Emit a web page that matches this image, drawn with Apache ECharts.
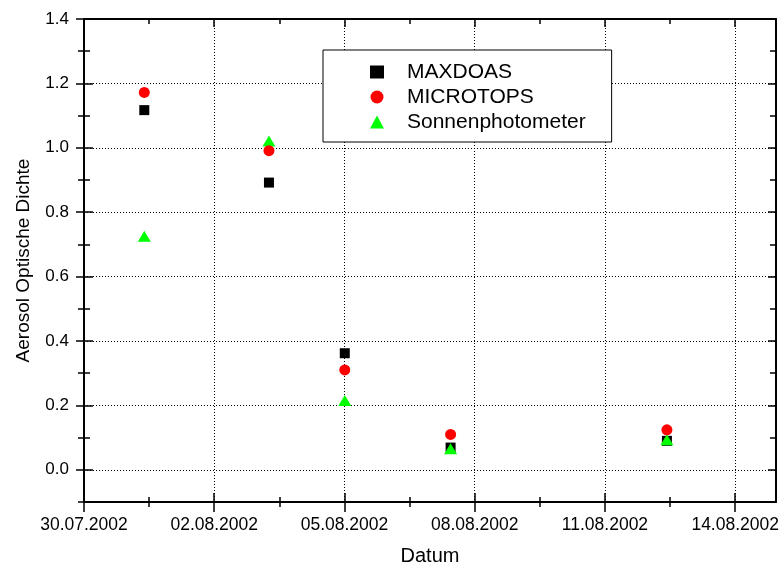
<!DOCTYPE html>
<html><head><meta charset="utf-8">
<script src="https://cdn.jsdelivr.net/npm/echarts@6/dist/echarts.min.js"></script>
<style>html,body{margin:0;padding:0;background:#fff}#c{width:779px;height:566px}</style>
</head><body><div id="c"></div>
<script>
// ---- data ----
const seriesNames = ['MAXDOAS', 'MICROTOPS', 'Sonnenphotometer'];
const sampleDates = ['2002-07-31T09:20', '2002-08-03T06:15', '2002-08-05T00:10', '2002-08-07T10:40', '2002-08-12T10:15'];
const maxdoas   = [1.117, 0.892, 0.362, 0.069, 0.090];
const microtops = [1.172, 0.991, 0.310, 0.110, 0.124];
const sonnen    = [0.725, 1.021, 0.215, 0.065, 0.093];

const xStartDate = '2002-07-30T00:00';
const xEndDays = 15.94;
const xMajorTicks = [0, 3, 6, 9, 12, 15];
const xMinorTicks = [1.5, 4.5, 7.5, 10.5, 13.5];
const xTickLabels = ['30.07.2002', '02.08.2002', '05.08.2002', '08.08.2002', '11.08.2002', '14.08.2002'];
const yMin = -0.1, yMax = 1.4;
const yMajorTicks = [0, 0.2, 0.4, 0.6, 0.8, 1.0, 1.2, 1.4];
const yMinorTicks = [-0.1, 0.1, 0.3, 0.5, 0.7, 0.9, 1.1, 1.3];
const yTickLabels = ['0.0', '0.2', '0.4', '0.6', '0.8', '1.0', '1.2', '1.4'];
const xTitle = 'Datum';
const yTitle = 'Aerosol Optische Dichte';

// ---- helpers ----
function toMs(s) {
  const m = s.match(/(\d+)-(\d+)-(\d+)T(\d+):(\d+)/);
  return Date.UTC(+m[1], +m[2] - 1, +m[3], +m[4], +m[5]);
}
function toDays(s) { return (toMs(s) - toMs(xStartDate)) / 86400000; }
function pairs(vals) { return sampleDates.map((d, i) => [toDays(d), vals[i]]); }

const FONT = '"Liberation Sans", Arial, sans-serif';
const BLACK = '#000';
const dotted = { show: true, lineStyle: { color: BLACK, width: 1, type: [1, 2] } };
const noSplit = { show: false };
const tickStyle = { color: BLACK, width: 1.5 };
const solidLine = { show: true, onZero: false, lineStyle: { color: BLACK, width: 2 } };
const hiddenLine = { show: false, onZero: false };

function xAx(o) {
  return Object.assign({
    type: 'value', min: 0, max: xEndDays, position: 'bottom',
    axisLine: hiddenLine, axisLabel: { show: false }, splitLine: noSplit,
    axisTick: { show: false }
  }, o);
}
function yAx(o) {
  return Object.assign({
    type: 'value', min: yMin, max: yMax, position: 'left',
    axisLine: hiddenLine, axisLabel: { show: false }, splitLine: noSplit,
    axisTick: { show: false }
  }, o);
}

const xAxes = [
  xAx({
    axisLine: solidLine,
    axisTick: { show: false, customValues: xMajorTicks },
    axisLabel: {
      show: true, customValues: xMajorTicks, margin: 14, color: BLACK,
      fontFamily: FONT, fontSize: 17.5,
      formatter: v => xTickLabels[xMajorTicks.findIndex(t => Math.abs(t - v) < 1e-6)] || ''
    },
    splitLine: dotted,
    name: xTitle, nameLocation: 'middle', nameGap: 44,
    nameTextStyle: { color: BLACK, fontFamily: FONT, fontSize: 20 }
  }),
  xAx({ offset: -9, axisTick: { show: true, customValues: xMajorTicks, length: 19, lineStyle: tickStyle } }),
  xAx({ offset: -5, axisTick: { show: true, customValues: xMinorTicks, length: 10, lineStyle: tickStyle } }),
  xAx({ position: 'top', axisLine: solidLine,
        axisTick: { show: true, inside: true, customValues: xMajorTicks, length: 8, lineStyle: tickStyle } }),
  xAx({ position: 'top', axisTick: { show: true, inside: true, customValues: xMinorTicks, length: 5, lineStyle: tickStyle } })
];

const yAxes = [
  yAx({
    axisLine: solidLine,
    axisTick: { show: false, customValues: yMajorTicks },
    axisLabel: {
      show: true, customValues: yMajorTicks, margin: 15, color: BLACK,
      fontFamily: FONT, fontSize: 17,
      formatter: v => yTickLabels[yMajorTicks.findIndex(t => Math.abs(t - v) < 1e-6)] || ''
    },
    splitLine: dotted,
    name: yTitle, nameLocation: 'middle', nameGap: 51,
    nameTextStyle: { color: BLACK, fontFamily: FONT, fontSize: 19 }
  }),
  yAx({ offset: -9, axisTick: { show: true, customValues: yMajorTicks, length: 17, lineStyle: tickStyle } }),
  yAx({ offset: -6, axisTick: { show: true, customValues: yMinorTicks, length: 12, lineStyle: tickStyle } }),
  yAx({ position: 'right', axisLine: solidLine,
        axisTick: { show: true, inside: true, customValues: yMajorTicks, length: 8, lineStyle: tickStyle } }),
  yAx({ position: 'right', axisTick: { show: true, inside: true, customValues: yMinorTicks, length: 6, lineStyle: tickStyle } })
];

const chart = echarts.init(document.getElementById('c'), null, { renderer: 'canvas' });
chart.setOption({
  animation: false,
  backgroundColor: '#fff',
  grid: { left: 84, right: 3, top: 19, bottom: 64, containLabel: false, outerBoundsMode: 'none' },
  xAxis: xAxes,
  yAxis: yAxes,
  legend: {
    data: seriesNames,
    orient: 'vertical', left: 323, top: 50,
    padding: [11.5, 26, 9.5, 47],
    itemWidth: 14, itemHeight: 13, itemGap: 4,
    backgroundColor: '#fff', borderColor: BLACK, borderWidth: 1,
    textStyle: { color: BLACK, fontFamily: FONT, fontSize: 21, lineHeight: 21, padding: [0, 0, 0, 18] }
  },
  series: [
    { name: seriesNames[0], type: 'scatter', xAxisIndex: 0, yAxisIndex: 0, z: 2,
      symbol: 'rect', symbolSize: 10, itemStyle: { color: '#000000', opacity: 1 }, data: pairs(maxdoas) },
    { name: seriesNames[1], type: 'scatter', xAxisIndex: 0, yAxisIndex: 0, z: 4,
      symbol: 'circle', symbolSize: 11, itemStyle: { color: '#ff0000', opacity: 1 }, data: pairs(microtops) },
    { name: seriesNames[2], type: 'scatter', xAxisIndex: 0, yAxisIndex: 0, z: 3,
      symbol: 'triangle', symbolSize: [13, 11], itemStyle: { color: '#00ff00', opacity: 1 }, data: pairs(sonnen) }
  ]
});
</script>
</body></html>
